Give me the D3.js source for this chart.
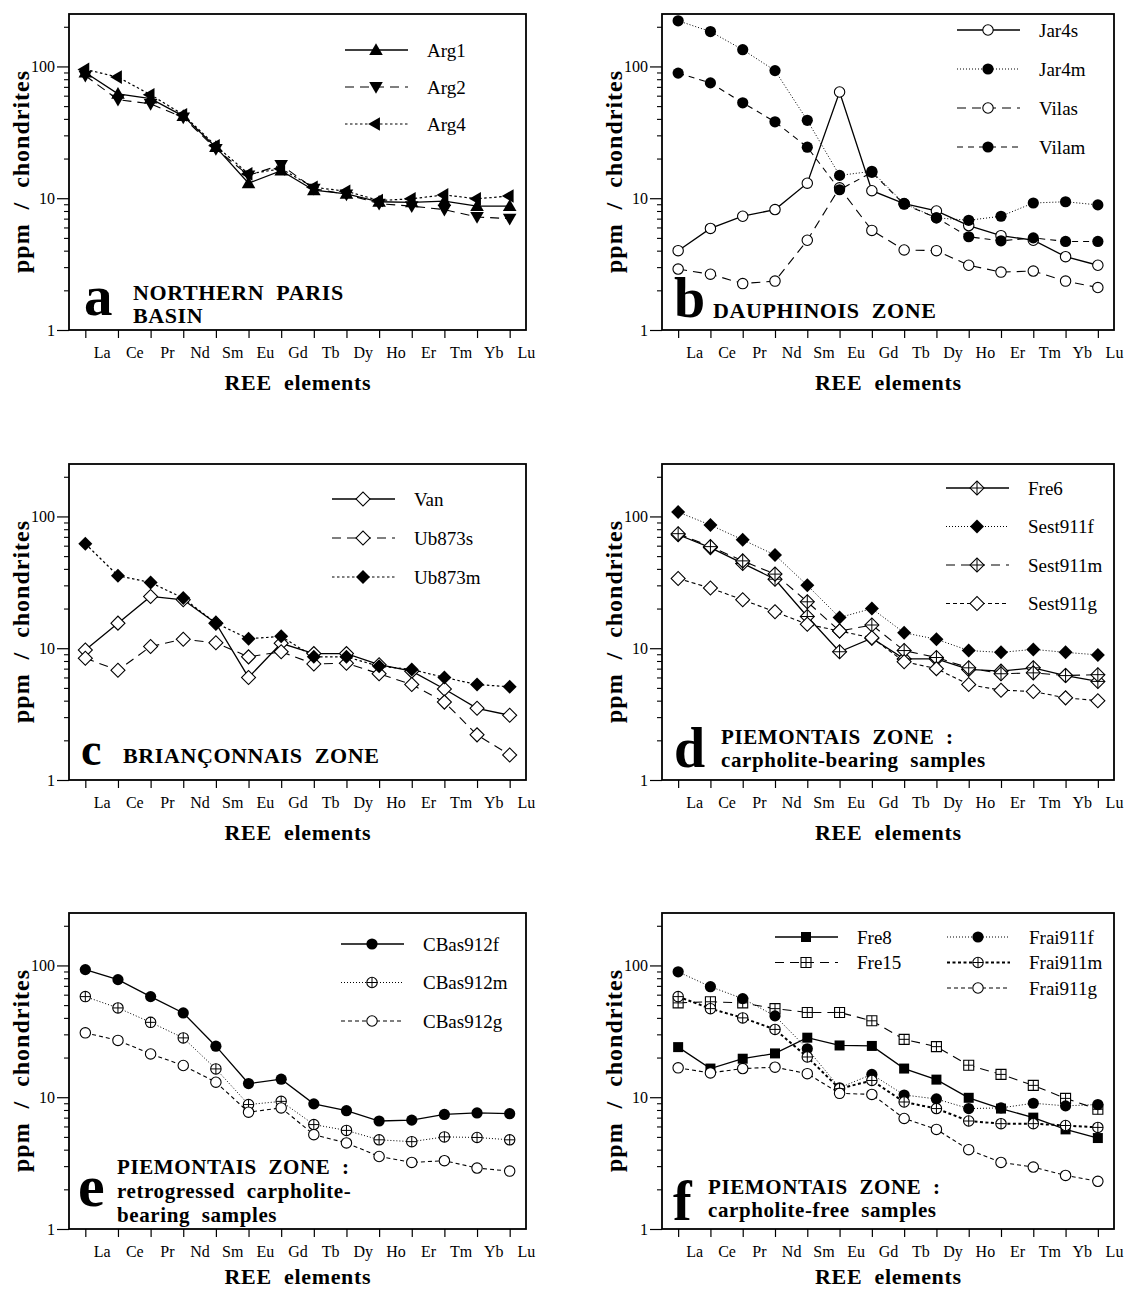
<!DOCTYPE html>
<html>
<head>
<meta charset="utf-8">
<script src="https://cdn.jsdelivr.net/npm/d3@7"></script>
<style>
  body { margin: 0; background: white; }
  svg { display: block; font-family: "Liberation Serif", "Times New Roman", serif; }
</style>
</head>
<body>
<script>
// REE elements (x categories) and log axis ticks
var elements = ['La', 'Ce', 'Pr', 'Nd', 'Sm', 'Eu', 'Gd', 'Tb', 'Dy', 'Ho', 'Er', 'Tm', 'Yb', 'Lu'];
var majorTicks = [1, 10, 100];
var minorTicks = [2, 3, 4, 5, 6, 7, 8, 9, 20, 30, 40, 50, 60, 70, 80, 90, 200];

// a - northern Paris basin
var arg1 = [90, 62, 57, 42, 24.4, 13, 16.2, 11.5, 10.8, 9.4, 9.3, 9.5, 8.7, 8.7];
var arg2 = [85, 56, 52, 41, 23.7, 14.9, 17.9, 11.8, 10.7, 9.1, 8.7, 8.2, 7.2, 7.0];
var arg4 = [95, 83, 61, 43, 25, 15.3, 16.7, 12.1, 11.3, 9.6, 9.9, 10.6, 9.9, 10.4];

// b - Dauphinois zone
var jar4s = [4.0, 5.9, 7.3, 8.2, 13, 64, 11.4, 9.1, 8.0, 6.2, 5.2, 4.8, 3.6, 3.1];
var jar4m = [222, 184, 134, 93, 39, 14.9, 16.0, 9.1, 7.1, 6.8, 7.3, 9.2, 9.4, 8.9];
var vilas = [2.9, 2.65, 2.25, 2.35, 4.8, 12.0, 5.7, 4.05, 4.0, 3.1, 2.75, 2.8, 2.35, 2.1];
var vilam = [89, 75, 53, 38, 24.4, 11.6, 15.7, 9.0, 7.1, 5.1, 4.75, 5.0, 4.7, 4.7];

// c - Brianconnais zone
var van = [9.7, 15.5, 24.7, 23.3, 15.5, 6.0, 10.9, 9.1, 9.1, 7.5, 6.7, 4.9, 3.5, 3.1];
var ub873s = [8.4, 6.8, 10.3, 11.7, 11.0, 8.6, 9.4, 7.6, 7.7, 6.4, 5.3, 3.9, 2.2, 1.55];
var ub873m = [62, 35.5, 31.5, 24, 15.5, 11.8, 12.3, 8.6, 8.6, 7.3, 6.9, 6.0, 5.3, 5.1];

// d - Piemontais zone, carpholite-bearing
var fre6 = [72.6, 58, 44, 33.4, 17.4, 9.4, 11.9, 8.3, 8.3, 6.9, 6.7, 7.1, 6.2, 5.6];
var sest911f = [108, 86, 66.5, 51, 30, 17.1, 20, 13.1, 11.7, 9.6, 9.3, 9.8, 9.3, 8.9];
var sest911m = [74, 59, 46, 36.5, 22.5, 13.5, 15.0, 9.6, 8.5, 7.1, 6.4, 6.5, 6.2, 6.3];
var sest911g = [33.8, 28.6, 23.3, 18.9, 15.2, 13.5, 12.0, 7.9, 7.0, 5.3, 4.8, 4.7, 4.2, 4.0];

// e - Piemontais zone, retrogressed
var cbas912f = [93, 78, 58, 43.6, 24.4, 12.7, 13.7, 8.9, 7.9, 6.6, 6.7, 7.4, 7.6, 7.5];
var cbas912m = [58, 47.6, 37, 28.2, 16.4, 8.8, 9.3, 6.2, 5.6, 4.75, 4.6, 5.0, 4.95, 4.75];
var cbas912g = [30.8, 27, 21.3, 17.4, 13, 7.7, 8.3, 5.2, 4.5, 3.55, 3.2, 3.3, 2.9, 2.75];

// f - Piemontais zone, carpholite-free
var fre8 = [24, 16.5, 19.6, 21.5, 28.3, 24.7, 24.5, 16.5, 13.6, 9.9, 8.2, 7.0, 5.7, 4.9];
var fre15 = [52, 53, 52, 47, 44, 44, 38, 27.5, 24.2, 17.5, 14.9, 12.3, 9.8, 8.1];
var frai911f = [89.5, 69, 56, 41.4, 23.3, 11.8, 14.9, 10.4, 9.7, 8.2, 8.3, 9.0, 8.6, 8.8];
var frai911m = [58, 47, 40, 32.7, 20.2, 11.6, 13.4, 9.2, 8.2, 6.6, 6.3, 6.3, 6.1, 5.9];
var frai911g = [16.7, 15.3, 16.5, 16.9, 15.1, 10.7, 10.5, 6.9, 5.7, 4.0, 3.2, 2.95, 2.55, 2.3];

var svgWidth = 1126, svgHeight = 1291;
var colX = [69, 662], colW = [457, 452], rowY = [14, 464, 913];
var xTitleOffset = [60, 60, 55];
var plotH = 316;
var yMax = 250;

var lineStyles = {
  solid: {dash: null, width: 1.3},
  dash: {dash: '9,6', width: 1.1},
  mdash: {dash: '6,5', width: 1.1},
  sdash: {dash: '4,3', width: 1.1},
  dot: {dash: '2.5,2.5', width: 1.2},
  fine: {dash: '1,2', width: 1},
  heavy: {dash: '3,2.5', width: 2}
};

var panels = [
  {col: 0, row: 0, letter: 'a', letterSize: 57, letterX: 15, letterY: 301,
   title: ['NORTHERN  PARIS', 'BASIN'], titleX: 64, titleY: 286, titleDy: 23, titleSize: 22,
   legend: {x: [276], y: 36, dy: 37},
   series: [
     {name: 'Arg1', values: arg1, line: 'solid', marker: 'tri-up'},
     {name: 'Arg2', values: arg2, line: 'dash', marker: 'tri-down'},
     {name: 'Arg4', values: arg4, line: 'dot', marker: 'tri-left'}
   ]},
  {col: 1, row: 0, letter: 'b', letterSize: 56, letterX: 12, letterY: 303,
   title: ['DAUPHINOIS  ZONE'], titleX: 51, titleY: 304, titleDy: 23, titleSize: 22,
   legend: {x: [295], y: 16, dy: 39},
   series: [
     {name: 'Jar4s', values: jar4s, line: 'solid', marker: 'circle-open'},
     {name: 'Jar4m', values: jar4m, line: 'fine', marker: 'circle-fill'},
     {name: 'Vilas', values: vilas, line: 'dash', marker: 'circle-open'},
     {name: 'Vilam', values: vilam, line: 'mdash', marker: 'circle-fill'}
   ]},
  {col: 0, row: 1, letter: 'c', letterSize: 46, letterX: 12, letterY: 301,
   title: ['BRIANÇONNAIS  ZONE'], titleX: 54, titleY: 299, titleDy: 23, titleSize: 22,
   legend: {x: [263], y: 35, dy: 39},
   series: [
     {name: 'Van', values: van, line: 'solid', marker: 'diamond-open'},
     {name: 'Ub873s', values: ub873s, line: 'dash', marker: 'diamond-open'},
     {name: 'Ub873m', values: ub873m, line: 'dot', marker: 'diamond-fill'}
   ]},
  {col: 1, row: 1, letter: 'd', letterSize: 56, letterX: 12, letterY: 303,
   title: ['PIEMONTAIS  ZONE  :', 'carpholite-bearing  samples'], titleX: 59, titleY: 280, titleDy: 23, titleSize: 21,
   legend: {x: [284], y: 24, dy: 38.5},
   series: [
     {name: 'Fre6', values: fre6, line: 'solid', marker: 'diamond-plus'},
     {name: 'Sest911f', values: sest911f, line: 'fine', marker: 'diamond-fill'},
     {name: 'Sest911m', values: sest911m, line: 'dash', marker: 'diamond-plus'},
     {name: 'Sest911g', values: sest911g, line: 'sdash', marker: 'diamond-open'}
   ]},
  {col: 0, row: 2, letter: 'e', letterSize: 60, letterX: 9, letterY: 293,
   title: ['PIEMONTAIS  ZONE  :', 'retrogressed  carpholite-', 'bearing  samples'], titleX: 48, titleY: 261, titleDy: 24, titleSize: 21,
   legend: {x: [272], y: 31, dy: 38.5},
   series: [
     {name: 'CBas912f', values: cbas912f, line: 'solid', marker: 'circle-fill'},
     {name: 'CBas912m', values: cbas912m, line: 'fine', marker: 'circle-plus'},
     {name: 'CBas912g', values: cbas912g, line: 'sdash', marker: 'circle-open'}
   ]},
  {col: 1, row: 2, letter: 'f', letterSize: 56, letterX: 11, letterY: 307,
   title: ['PIEMONTAIS  ZONE  :', 'carpholite-free  samples'], titleX: 46, titleY: 281, titleDy: 23, titleSize: 21,
   legend: {x: [113, 285], y: 24, dy: 25.5, slots: [[0, 0], [0, 1], [1, 0], [1, 1], [1, 2]]},
   series: [
     {name: 'Fre8', values: fre8, line: 'solid', marker: 'square-fill'},
     {name: 'Fre15', values: fre15, line: 'dash', marker: 'square-plus'},
     {name: 'Frai911f', values: frai911f, line: 'fine', marker: 'circle-fill'},
     {name: 'Frai911m', values: frai911m, line: 'heavy', marker: 'circle-plus'},
     {name: 'Frai911g', values: frai911g, line: 'sdash', marker: 'circle-open'}
   ]}
];

var svg = d3.select('body').append('svg')
  .attr('width', svgWidth)
  .attr('height', svgHeight);

svg.append('rect').attr('width', svgWidth).attr('height', svgHeight).attr('fill', 'white');

function drawShape(g, kind) {
  var parts = kind.split('-');
  var shape = parts[0], style = parts[1];
  if (shape === 'tri') {
    var rot = {up: 0, down: 180, left: -90}[style];
    g.append('path')
      .attr('d', d3.symbol().type(d3.symbolTriangle).size(80)())
      .attr('transform', `translate(0,${style === 'up' ? 1 : style === 'down' ? -1 : 0}) rotate(${rot})`)
      .attr('fill', 'black');
    return;
  }
  var r, el;
  if (shape === 'circle') {
    r = style === 'fill' ? 5.6 : 5.2;
    el = g.append('circle').attr('r', r);
  } else if (shape === 'diamond') {
    r = 7;
    el = g.append('path')
      .attr('d', d3.symbol().type(d3.symbolSquare).size(98)())
      .attr('transform', 'rotate(45)');
  } else {
    r = 5;
    el = g.append('path').attr('d', d3.symbol().type(d3.symbolSquare).size(100)());
  }
  if (style === 'fill') {
    el.attr('fill', 'black');
  } else {
    el.attr('fill', 'white').attr('stroke', 'black').attr('stroke-width', 1.1);
  }
  if (style === 'plus') {
    g.append('path')
      .attr('d', `M${-r},0H${r}M0,${-r}V${r}`)
      .attr('stroke', 'black')
      .attr('stroke-width', 1);
  }
}

function drawPanel(p) {
  var w = colW[p.col], h = plotH;
  var g = svg.append('g').attr('transform', `translate(${colX[p.col]},${rowY[p.row]})`);

  var x = d3.scalePoint().domain(elements).range([0, w]).padding(0.5);
  var y = d3.scaleLog().domain([1, yMax]).range([h, 0]);
  var step = x.step();

  // y axis, minor then major ticks
  g.append('g')
    .call(d3.axisLeft(y).tickValues(minorTicks).tickSize(5).tickFormat(''))
    .call(function(a) { a.select('.domain').remove(); })
    .selectAll('line').attr('stroke-width', 1.1);
  var yAx = g.append('g')
    .call(d3.axisLeft(y).tickValues(majorTicks).tickSize(12).tickPadding(2).tickFormat(d3.format('d')))
    .call(function(a) { a.select('.domain').remove(); })
    .attr('font-family', null)
    .attr('font-size', 16);
  yAx.selectAll('line').attr('stroke-width', 1.2);

  // x axis, labels sit between ticks
  var xAx = g.append('g')
    .attr('transform', `translate(0,${h})`)
    .call(d3.axisBottom(x).tickSize(8).tickPadding(9))
    .call(function(a) { a.select('.domain').remove(); })
    .attr('font-family', null)
    .attr('font-size', 16);
  xAx.selectAll('line').attr('stroke-width', 1.2);
  xAx.selectAll('.tick text').attr('x', step / 2);

  // frame
  g.append('rect')
    .attr('width', w)
    .attr('height', h)
    .attr('fill', 'none')
    .attr('stroke', 'black')
    .attr('stroke-width', 1.8);

  // axis titles
  g.append('text')
    .attr('transform', `translate(-48,${h / 2}) rotate(-90)`)
    .attr('dy', '0.32em')
    .attr('text-anchor', 'middle')
    .attr('font-size', 24)
    .attr('font-weight', 'bold')
    .attr('textLength', 202)
    .attr('lengthAdjust', 'spacing')
    .style('white-space', 'pre')
    .text('ppm  /  chondrites');
  g.append('text')
    .attr('x', w / 2)
    .attr('y', h + xTitleOffset[p.row])
    .attr('text-anchor', 'middle')
    .attr('font-size', 22)
    .attr('font-weight', 'bold')
    .attr('textLength', 146)
    .attr('lengthAdjust', 'spacing')
    .style('white-space', 'pre')
    .text('REE  elements');

  // panel letter and title
  g.append('text')
    .attr('x', p.letterX)
    .attr('y', p.letterY)
    .attr('font-size', p.letterSize)
    .attr('font-weight', 'bold')
    .text(p.letter);
  g.selectAll('.ptitle')
    .data(p.title)
    .enter()
    .append('text')
    .attr('x', p.titleX)
    .attr('y', function(d, i) { return p.titleY + i * p.titleDy; })
    .attr('font-size', p.titleSize)
    .attr('font-weight', 'bold')
    .attr('letter-spacing', 0.6)
    .style('white-space', 'pre')
    .text(function(d) { return d; });

  var line = d3.line()
    .x(function(d, i) { return x(elements[i]); })
    .y(function(d) { return y(d); });

  p.series.forEach(function(s) {
    var st = lineStyles[s.line];
    g.append('path')
      .datum(s.values)
      .attr('d', line)
      .attr('fill', 'none')
      .attr('stroke', 'black')
      .attr('stroke-width', st.width)
      .attr('stroke-dasharray', st.dash);
  });

  p.series.forEach(function(s) {
    g.selectAll(null)
      .data(s.values)
      .enter()
      .append('g')
      .attr('transform', function(d, i) { return `translate(${x(elements[i])},${y(d)})`; })
      .each(function() { drawShape(d3.select(this), s.marker); });
  });

  // legend
  var lg = p.legend;
  p.series.forEach(function(s, i) {
    var slot = lg.slots ? lg.slots[i] : [0, i];
    var lx = lg.x[slot[0]];
    var ly = lg.y + slot[1] * lg.dy;
    var st = lineStyles[s.line];
    g.append('line')
      .attr('x1', lx).attr('x2', lx + 63)
      .attr('y1', ly).attr('y2', ly)
      .attr('stroke', 'black')
      .attr('stroke-width', st.width)
      .attr('stroke-dasharray', st.dash);
    drawShape(g.append('g').attr('transform', `translate(${lx + 31},${ly})`), s.marker);
    g.append('text')
      .attr('x', lx + 82)
      .attr('y', ly)
      .attr('dy', '0.35em')
      .attr('font-size', 19)
      .text(s.name);
  });
}

panels.forEach(drawPanel);
</script>
</body>
</html>
